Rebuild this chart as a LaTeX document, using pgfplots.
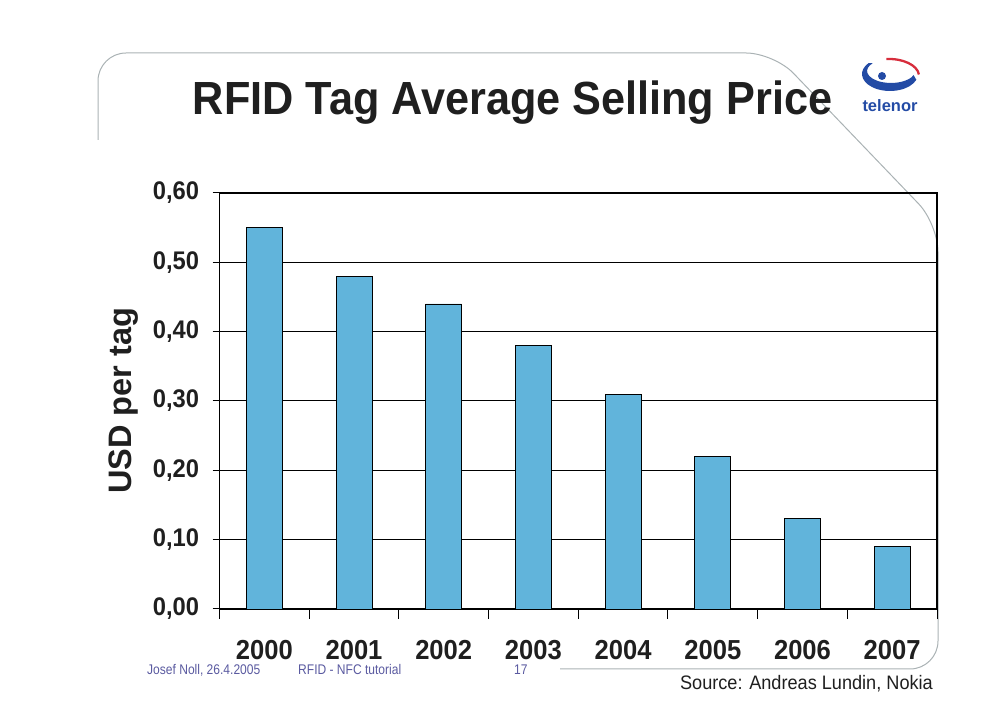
\documentclass[border=0pt]{standalone}
\usepackage{fontspec}
\usepackage{pgfplots}
\pgfplotsset{compat=1.18}
\newfontfamily\cf[FakeStretch=0.93]{Liberation Sans}
\newfontfamily\cn{Liberation Sans}
\newfontfamily\cff[FakeStretch=0.86]{Liberation Sans}
\definecolor{barblue}{RGB}{97,180,219}
\definecolor{framegray}{RGB}{170,178,180}
\definecolor{telblue}{RGB}{35,75,165}
\definecolor{telred}{RGB}{215,45,60}
\definecolor{footblue}{RGB}{90,90,160}
\begin{document}
\begin{tikzpicture}[x=1bp,y=1bp]
\path[use as bounding box] (0,0) rectangle (1006,728);
% slide frame
\draw[framegray, line width=1bp, rounded corners=28bp]
  (98,588) -- (98,675) -- (774,675) -- (938,504) -- (938,59) -- (560,59);
% title
\node[anchor=base, inner sep=0pt, font=\cf\fontsize{46.5bp}{50bp}\selectfont\bfseries, text=black!88]
  at (512.5,613) {RFID Tag Average Selling Price};
% logo
\fill[telblue] (890,654) ++(140:28 and 17) arc[start angle=140, end angle=340, x radius=28, y radius=17]
  -- (913.6,652.9) arc[start angle=340, end angle=140, x radius=24, y radius=12] -- cycle;
\draw[telred, line width=2.3bp] (889,652) ++(95:30 and 17) arc[start angle=95, end angle=5, x radius=30, y radius=17];
\fill[telblue] (882,652) circle[radius=4];
\node[anchor=base, inner sep=0pt, font=\cn\fontsize{16.5bp}{20bp}\selectfont\bfseries, text=telblue] at (890,616) {telenor};
\begin{axis}[
  at={(219.5bp,119bp)}, anchor=south west,
  scale only axis, width=717.5bp, height=416bp,
  xmin=-0.5, xmax=7.5, ymin=0, ymax=0.6,
  xtick={0,...,7},
  xticklabels={2000,2001,2002,2003,2004,2005,2006,2007},
  minor xtick={-0.5,0.5,...,7.5},
  ytick={0,0.1,...,0.6},
  major tick length=7bp, minor tick length=10bp,
  tick align=outside,
  major x tick style={draw=none},
  minor x tick style={draw=black, line width=1bp},
  ytick style={draw=black, line width=1bp},
  xtick pos=bottom, ytick pos=left,
  ymajorgrids,
  major grid style={black, line width=1bp},
  axis line style={black, line width=1.2bp},
  /pgf/number format/assume math mode=true,
  yticklabel style={/pgf/number format/fixed, /pgf/number format/fixed zerofill, /pgf/number format/precision=2, /pgf/number format/use comma},
  yticklabel style={font=\cf\fontsize{25.5bp}{28bp}\selectfont\bfseries, text=black!88, xshift=-10bp},
  xticklabel style={font=\cf\fontsize{27.5bp}{30bp}\selectfont\bfseries, text=black!88, yshift=-21bp},
  every axis y label/.style={at={(axis description cs:-0.133,0.5)}, rotate=90, anchor=center},
  ylabel={\cn\fontsize{32.5bp}{36bp}\selectfont\bfseries USD per tag},
  ylabel style={text=black!88},
]
\addplot[ybar, bar width=36bp, fill=barblue, draw=black, line width=0.8bp]
  coordinates {(0,0.55) (1,0.48) (2,0.44) (3,0.38) (4,0.31) (5,0.22) (6,0.13) (7,0.09)};
\end{axis}
% footer
\node[anchor=base west, inner sep=0pt, font=\cff\fontsize{14bp}{16bp}\selectfont, text=footblue] at (147,53) {Josef Noll, 26.4.2005};
\node[anchor=base west, inner sep=0pt, font=\cff\fontsize{14bp}{16bp}\selectfont, text=footblue] at (298,53) {RFID - NFC tutorial};
\node[anchor=base west, inner sep=0pt, font=\cff\fontsize{14bp}{16bp}\selectfont, text=footblue] at (514,53) {17};
\node[anchor=base east, inner sep=0pt, font=\cf\fontsize{19.5bp}{22bp}\selectfont, text=black!88] at (933,38) {Source: Andreas Lundin, Nokia};
\end{tikzpicture}
\end{document}
